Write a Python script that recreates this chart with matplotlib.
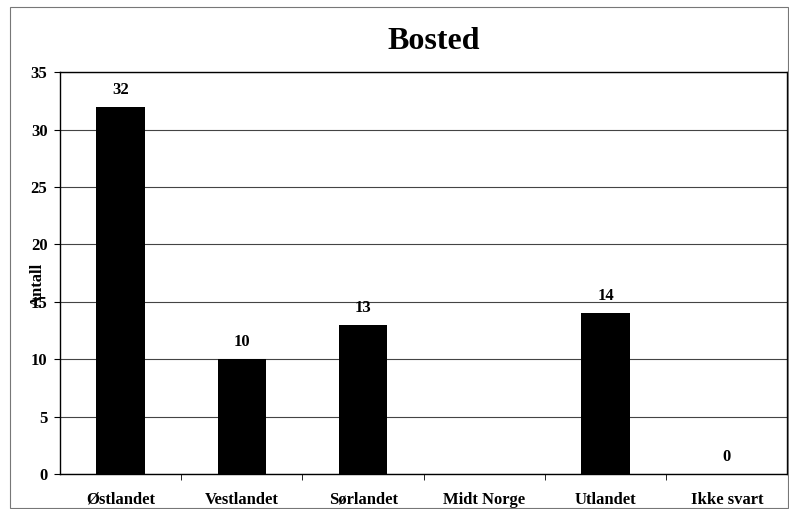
import matplotlib.pyplot as plt
from matplotlib.patches import Rectangle
import numpy as np

categories = ["Østlandet", "Vestlandet", "Sørlandet", "Midt Norge", "Utlandet", "Ikke svart"]
values = [32, 10, 13, None, 14, 0]
yticks = [0, 5, 10, 15, 20, 25, 30, 35]

plt.rcParams['font.family'] = ['Liberation Serif', 'DejaVu Serif']
plt.rcParams['font.weight'] = 'bold'

fig = plt.figure(figsize=(7.89, 5.09), dpi=100)
ax = fig.add_axes([0.076, 0.069, 0.922, 0.789])

x = np.arange(len(categories))
heights = [v if v is not None else 0 for v in values]
ax.bar(x, heights, width=0.4, color="black", zorder=3)
for xi, v in zip(x, values):
    if v is None:
        continue
    ax.text(xi, v + 0.8, str(v), ha="center", va="bottom", fontsize=12, fontweight="bold")

ax.set_xlim(-0.5, len(categories) - 0.5)
ax.set_ylim(0, 35)
ax.set_yticks(yticks)
ax.set_yticklabels([str(t) for t in yticks], fontsize=12, fontweight="bold")
ax.set_xticks(x)
ax.set_xticklabels(categories, fontsize=12, fontweight="bold")
ax.tick_params(axis="x", length=0, pad=13)
ax.set_xticks(np.arange(len(categories) - 1) + 0.5, minor=True)
ax.tick_params(axis="x", which="minor", length=4, direction="out")
ax.tick_params(axis="y", length=4, direction="out", pad=5)
ax.grid(axis="y", color="#444444", linewidth=0.8, zorder=0)
for s in ax.spines.values():
    s.set_color("black")
    s.set_linewidth(1.0)

ax.set_ylabel("Antall", fontsize=12, fontweight="bold")
ax.yaxis.set_label_coords(-0.019, 0.47)
ax.set_title("Bosted", fontsize=23, fontweight="bold", pad=17, x=0.514)

fig.patches.append(Rectangle((0.013, 0.002), 0.986, 0.984, transform=fig.transFigure,
                             fill=False, edgecolor="#777777", linewidth=0.8))

fig.savefig("out.png", dpi=100)
